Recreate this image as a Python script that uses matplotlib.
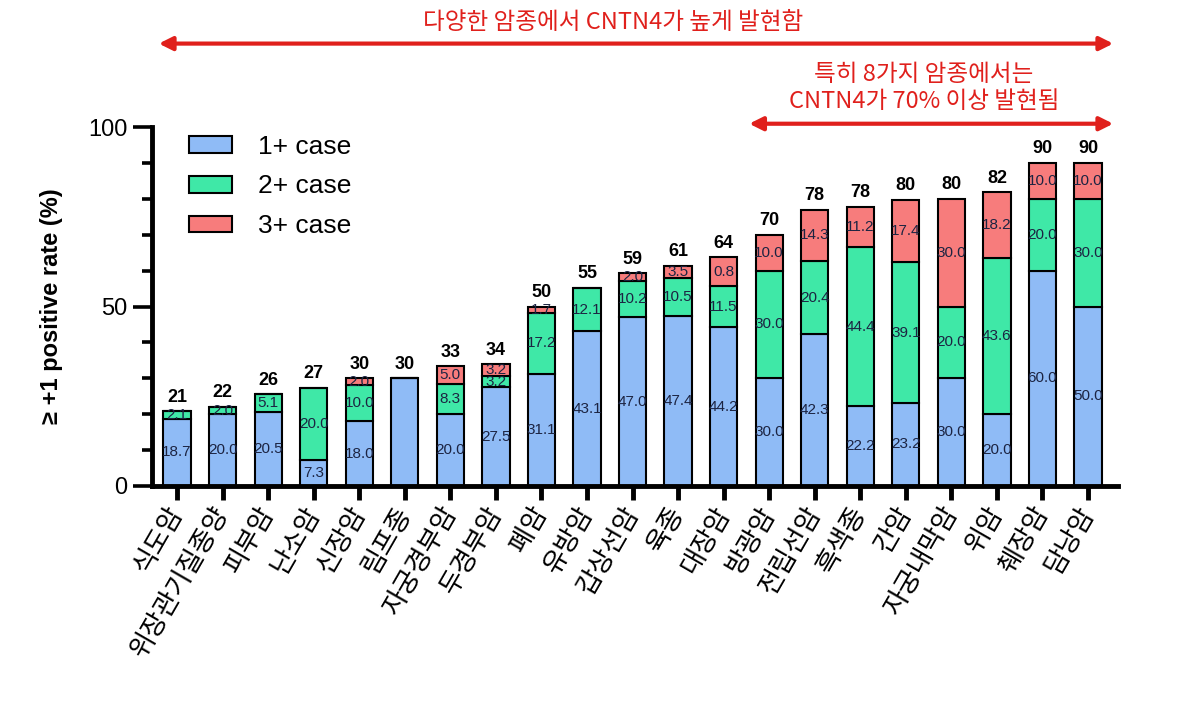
import matplotlib
matplotlib.use("Agg")
import matplotlib.pyplot as plt
import matplotlib.transforms as mtransforms
from matplotlib.ticker import MultipleLocator

plt.rcParams['font.family'] = ['Liberation Sans', 'Noto Sans CJK KR', 'DejaVu Sans']

cancers = ['식도암', '위장관기질종양', '피부암', '난소암', '신장암', '림프종', '자궁경부암',
           '두경부암', '폐암', '유방암', '갑상선암', '육종', '대장암', '방광암', '전립선암',
           '흑색종', '간암', '자궁내막암', '위암', '췌장암', '담낭암']
case1 = [18.7, 20.0, 20.5, 7.3, 18.0, 30.0, 20.0, 27.5, 31.1, 43.1, 47.0,
         47.4, 44.2, 30.0, 42.3, 22.2, 23.2, 30.0, 20.0, 60.0, 50.0]
case2 = [2.1, 2.0, 5.1, 20.0, 10.0, 0, 8.3, 3.2, 17.2, 12.1, 10.2,
         10.5, 11.5, 30.0, 20.4, 44.4, 39.1, 20.0, 43.6, 20.0, 30.0]
case3 = [0, 0, 0, 0, 2.0, 0, 5.0, 3.2, 1.7, 0, 2.0,
         3.5, 8.0, 10.0, 14.3, 11.2, 17.4, 30.0, 18.2, 10.0, 10.0]
totals = [21, 22, 26, 27, 30, 30, 33, 34, 50, 55, 59, 61, 64, 70, 78, 78, 80, 80, 82, 90, 90]
# labels printed differently from the drawn value in the source figure
label_override = {(0, 5): '', (2, 12): '0.8'}

colors = ['#8fbbf6', '#3fe8a7', '#f77c7c']
series = [case1, case2, case3]
names = ['1+ case', '2+ case', '3+ case']
red = '#e0201c'
navy = '#1c2442'

fig = plt.figure(figsize=(12, 7.03), dpi=100)
ax = fig.add_axes([0.1267, 0.3087, 0.805, 0.5106])

x = list(range(len(cancers)))
bottom = [0.0] * len(cancers)
for s, (vals, col, name) in enumerate(zip(series, colors, names)):
    ax.bar(x, vals, 0.6, bottom=bottom, color=col, edgecolor='black',
           linewidth=1.5, label=name, zorder=2)
    for i, v in enumerate(vals):
        if v <= 0:
            continue
        txt = label_override.get((s, i), f"{v:.1f}")
        if txt:
            ax.text(i, bottom[i] + v / 2, txt, ha='center', va='center',
                    fontsize=11, color=navy, zorder=3)
    bottom = [b + v for b, v in zip(bottom, vals)]

for i, t in enumerate(totals):
    ax.annotate(str(t), (i, bottom[i]), xytext=(0, 4), textcoords='offset points',
                ha='center', va='bottom', fontsize=13, fontweight='bold')

ax.set_xlim(-0.55, 20.66)
ax.set_ylim(0, 100)
ax.yaxis.set_major_locator(MultipleLocator(50))
ax.yaxis.set_minor_locator(MultipleLocator(10))
ax.set_xticks(x)
ax.set_xticklabels(cancers, rotation=60, ha='right', va='center',
                   rotation_mode='anchor', fontsize=19,
                   family=['Noto Sans CJK KR'])
shift = mtransforms.ScaledTranslation(8 / 100, -2 / 100, fig.dpi_scale_trans)
for lab in ax.get_xticklabels():
    lab.set_transform(lab.get_transform() + shift)
ax.tick_params(axis='x', length=10, width=3.5, pad=6)
ax.tick_params(axis='y', which='major', length=14, width=2.6, labelsize=17, pad=3.5)
ax.tick_params(axis='y', which='minor', length=7, width=2.6)

for side in ['top', 'right']:
    ax.spines[side].set_visible(False)
for side in ['left', 'bottom']:
    ax.spines[side].set_linewidth(3.5)

ax.set_ylabel('≥ +1 positive rate (%)', fontsize=17, fontweight='bold')
ax.yaxis.set_label_coords(-0.092, 0.5)

ax.legend(loc='upper left', bbox_to_anchor=(0.014, 1.045), frameon=False, fontsize=19,
          handlelength=1.6, handleheight=0.6, handletextpad=1.0, labelspacing=0.6)

# top annotations
fig.text(0.511, 0.968, '다양한 암종에서 CNTN4가 높게 발현함', ha='center', va='center',
         fontsize=17, color=red, family=['Noto Sans CJK KR'])
ax.annotate('', xy=(0.130, 0.938), xytext=(0.930, 0.938), xycoords='figure fraction',
            arrowprops=dict(arrowstyle='<|-|>', color=red, lw=3, mutation_scale=20))
fig.text(0.770, 0.875, '특히 8가지 암종에서는\nCNTN4가 70% 이상 발현됨', ha='center', va='center',
         fontsize=17, color=red, linespacing=1.2, family=['Noto Sans CJK KR'])
ax.annotate('', xy=(0.622, 0.824), xytext=(0.930, 0.824), xycoords='figure fraction',
            arrowprops=dict(arrowstyle='<|-|>', color=red, lw=3, mutation_scale=20))

fig.savefig('out.png', dpi=100)
